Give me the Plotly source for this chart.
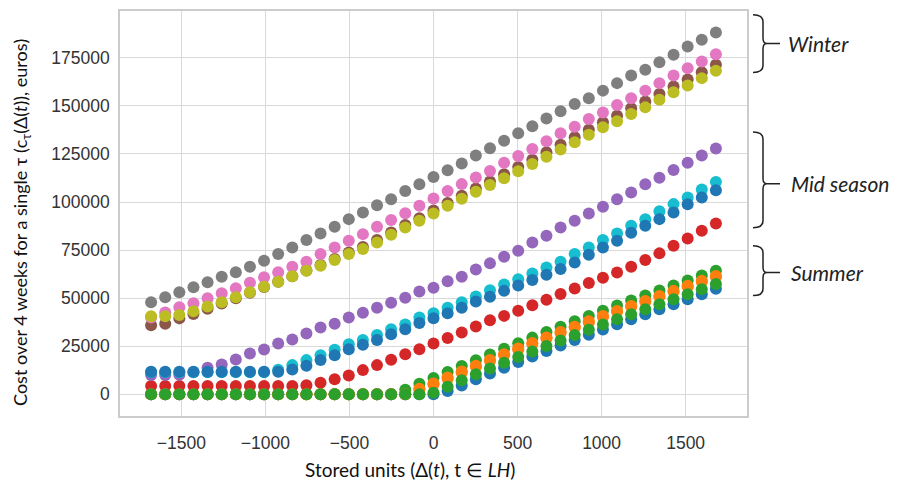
import plotly.graph_objects as go

# ---------------- data ----------------
stored_units = [-1680, -1596, -1512, -1428, -1344, -1260, -1176, -1092, -1008, -924,
                -840, -756, -672, -588, -504, -420, -336, -252, -168, -84,
                0, 84, 168, 252, 336, 420, 504, 588, 672, 756,
                840, 924, 1008, 1092, 1176, 1260, 1344, 1428, 1512, 1596, 1680]

s01_blue = [0]*21 + [1800, 4600, 7800, 10800, 13800, 16800, 19700, 22600, 25400, 28200,
                    31000, 33700, 36400, 39000, 41600, 44200, 46800, 49400, 52100, 54900]
s02_orange = [0]*19 + [2400, 5200, 8300, 11400, 14400, 17400, 20400, 23300, 26200, 29100,
                       31900, 34700, 37500, 40200, 42900, 45500, 48100, 50700, 53300, 55900, 58500, 61000]
s03_green = [0]*18 + [2400, 5500, 8500, 11600, 14700, 17700, 20700, 23700, 26600, 29500,
                      32400, 35200, 38000, 40800, 43500, 46200, 48800, 51400, 54000, 56600, 59200, 61800, 64300]
s04_red = [4400]*11 + [4700, 6000, 7800, 9800, 12600, 15200, 18000, 20800, 23500,
                       26500, 29300, 32200, 35300, 38500, 40800, 43500, 46300, 49200, 52200,
                       55000, 57900, 60600, 63300, 66400, 69800, 73300, 77200, 81000, 85000, 88800]
s05_purple = [10000, 10000, 10200, 11500, 13800, 15500, 18100, 21200, 23300, 26400,
              28500, 31600, 34700, 36700, 39900, 42400, 45000, 47600, 50200, 53500,
              55400, 58800, 61200, 64900, 68100, 71600, 74700, 79000, 82500, 86700,
              90200, 94000, 97500, 101400, 104900, 109200, 112600, 116600, 120400, 124200, 127800]
s06_brown = [35900, 36700, 39500, 41800, 44500, 47200, 50000, 52800, 55800, 58500,
             61400, 64400, 67300, 70400, 73800, 76600, 80200, 84200, 88000, 91600,
             95600, 99500, 103300, 107000, 110700, 114400, 118200, 122000, 125900, 129800,
             133700, 137600, 141500, 144800, 148700, 152200, 156200, 160100, 163700, 167500, 171300]
s07_pink = [40000, 42600, 45300, 47400, 50000, 52600, 55200, 58000, 60900, 63500,
            66400, 69000, 73000, 76400, 79900, 83300, 87100, 90600, 94200, 98000,
            101800, 105700, 109300, 112700, 116100, 120400, 123900, 127600, 131600, 135800,
            139100, 143100, 146500, 150400, 154000, 157900, 161800, 165800, 169600, 173000, 176800]
s08_gray = [47900, 50500, 53100, 55700, 58300, 61200, 63500, 66400, 69500, 73000,
            76400, 80200, 83600, 87100, 91100, 94500, 98300, 101400, 105700, 109200,
            113000, 116500, 120000, 124200, 128000, 131800, 135800, 139400, 143400, 147200,
            150900, 154000, 157900, 161800, 165800, 168700, 172700, 176500, 180800, 184300, 188100]
s09_olive = [40600, 40600, 41300, 43200, 45700, 47900, 50500, 53100, 56000, 58600,
             61400, 64300, 66900, 69900, 73000, 75600, 79000, 83000, 86700, 90200,
             94000, 98000, 101700, 105300, 108800, 112400, 116000, 119700, 123500, 127300,
             131100, 135000, 138900, 142000, 145800, 149200, 153200, 157100, 160600, 164400, 168200]
s10_cyan = [11500]*9 + [12800, 15200, 17800, 20300, 23200, 26000, 28300, 30900, 33800, 36300, 39900,
                        42200, 45000, 47900, 50900, 54100, 57100, 59800, 62800, 66000, 69000,
                        73000, 76400, 80200, 83600, 87600, 91100, 95200, 98900, 102400, 106500, 110400]
s11_blue = [11700]*10 + [12900, 14900, 17800, 20300, 23400, 25800, 28300, 31200, 33900, 37100,
                         39600, 42200, 45000, 48300, 50800, 53800, 56600, 59400, 62200, 65200,
                         68600, 72600, 76400, 79900, 84000, 87600, 91100, 94600, 98800, 102300, 106100]
s12_orange = [0]*19 + [2900, 5700, 8800, 11900, 14900, 17900, 20900, 23800, 26700, 29600,
                       32400, 35200, 38000, 40700, 43400, 46000, 48600, 51200, 53800, 56400, 59000, 61500]
s13_green = [0]*20 + [800, 4000, 7300, 10400, 13400, 16400, 19400, 22300, 25200, 28000,
                      30800, 33600, 36300, 39000, 41600, 44200, 46800, 49400, 52000, 54700, 57400]

series = [s01_blue, s02_orange, s03_green, s04_red, s05_purple, s06_brown, s07_pink,
          s08_gray, s09_olive, s10_cyan, s11_blue, s12_orange, s13_green]
colors = ["#1f77b4", "#ff7f0e", "#2ca02c", "#d62728", "#9467bd", "#8c564b", "#e377c2",
          "#7f7f7f", "#bcbd22", "#17becf", "#1f77b4", "#ff7f0e", "#2ca02c"]

x_ticks = [-1500, -1000, -500, 0, 500, 1000, 1500]
y_ticks = [0, 25000, 50000, 75000, 100000, 125000, 150000, 175000]

seasons = ["Winter", "Mid season", "Summer"]

# ---------------- figure ----------------
fig = go.Figure()
for ys, c in zip(series, colors):
    fig.add_trace(go.Scatter(x=stored_units, y=ys, mode="markers",
                             marker=dict(size=12, color=c, line=dict(width=0)),
                             showlegend=False, hoverinfo="x+y"))

# page body has an 8px margin: the figure is drawn 8px in from the top-left
OFF = 8
FW, FH = 897 - OFF, 487 - OFF
L, R, T, B = 120, 747, 9, 416          # plot area in page pixels
W, H = R - L, B - T


def px(x):
    return (x - L) / W


def py(y):
    return (B - y) / H


def brace(top, tip, bottom):
    x0, x1, xt, xd = 753, 763, 767, 780
    pts = [
        f"M {px(x0)},{py(top)}",
        f"Q {px(x1)},{py(top)} {px(x1)},{py(top + 7)}",
        f"L {px(x1)},{py(tip - 5)}",
        f"Q {px(x1)},{py(tip)} {px(xt)},{py(tip)}",
        f"L {px(xd)},{py(tip)}",
        f"M {px(xt)},{py(tip)}",
        f"Q {px(x1)},{py(tip)} {px(x1)},{py(tip + 5)}",
        f"L {px(x1)},{py(bottom - 7)}",
        f"Q {px(x1)},{py(bottom)} {px(x0)},{py(bottom)}",
    ]
    return " ".join(pts)


brace_specs = [(12.7, 41.7, 70.7), (130.7, 182.7, 226.7), (245, 271.7, 295)]
label_x = [786, 789, 789]
shapes = []
annotations = []
for (top, tip, bot), name, lx in zip(brace_specs, seasons, label_x):
    shapes.append(dict(type="path", xref="paper", yref="paper", path=brace(top, tip, bot),
                       line=dict(color="#222222", width=1.5)))
    annotations.append(dict(x=px(lx), y=py(tip), xref="paper", yref="paper", text=f"<i>{name}</i>",
                            showarrow=False, xanchor="left", yanchor="middle",
                            font=dict(family="Lato", size=21, color="#222222")))

annotations.append(dict(x=px(22), y=py(222), xref="paper", yref="paper", textangle=-90,
                        text="Cost over 4 weeks for a single τ (c<sub>τ</sub>(Δ(<i>t</i>)), euros)",
                        showarrow=False, xanchor="center", yanchor="middle",
                        font=dict(family="Lato", size=18, color="#111111")))
annotations.append(dict(x=px(410), y=py(470), xref="paper", yref="paper",
                        text="Stored units (Δ(<i>t</i>), t ∈ <i>LH</i>)",
                        showarrow=False, xanchor="center", yanchor="middle",
                        font=dict(family="Lato", size=19, color="#111111")))

fig.update_layout(
    width=FW, height=FH, autosize=False,
    margin=dict(l=L - OFF, r=897 - R, t=T - OFF, b=487 - B, pad=0),
    paper_bgcolor="white", plot_bgcolor="white",
    shapes=shapes, annotations=annotations,
    font=dict(family="Liberation Sans, Arial", size=17.5, color="#333333"),
)
fig.update_xaxes(range=[-1865, 1865], tickvals=x_ticks, ticktext=[f"{v}".replace("-", "\u2212") for v in x_ticks],
                 showgrid=True, gridcolor="#d9d9d9", gridwidth=1.2, zeroline=False,
                 showline=True, mirror=True, linecolor="#cccccc", linewidth=1.5,
                 ticks="", ticklabelstandoff=10)
fig.update_yaxes(range=[-11250, 199300], tickvals=y_ticks, ticktext=[str(v) for v in y_ticks],
                 showgrid=True, gridcolor="#d9d9d9", gridwidth=1.2, zeroline=False,
                 showline=True, mirror=True, linecolor="#cccccc", linewidth=1.5,
                 ticks="", ticklabelstandoff=5)

fig.write_html("out.html")
